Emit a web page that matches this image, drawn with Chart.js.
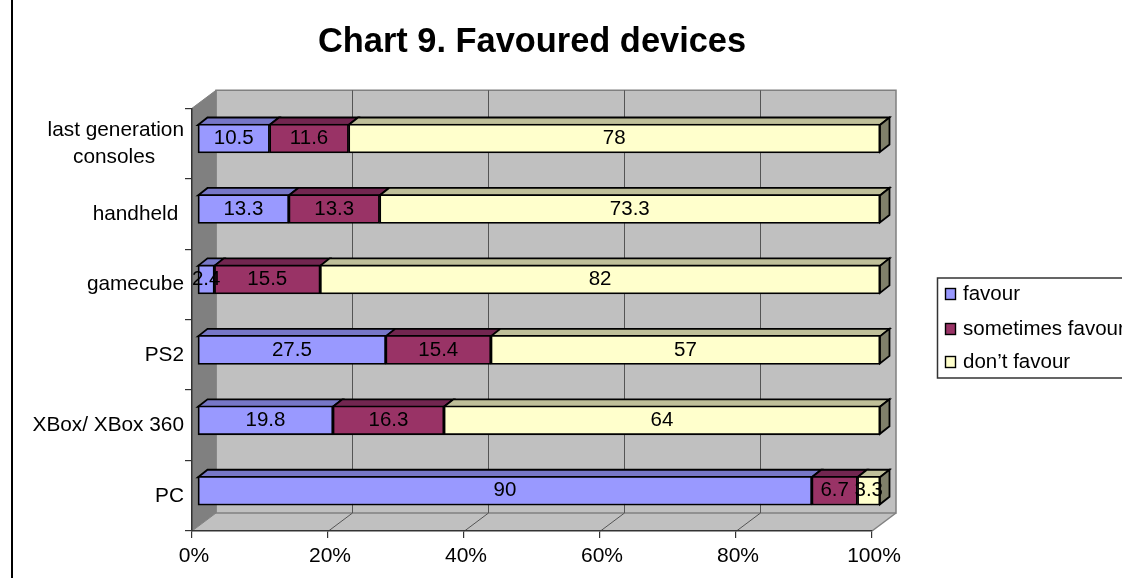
<!DOCTYPE html>
<html><head><meta charset="utf-8">
<style>html,body{margin:0;padding:0;background:#fff}canvas{display:block}</style>
<script src="https://cdn.jsdelivr.net/npm/chart.js@4/dist/chart.umd.min.js"></script>
</head><body><canvas id="c" width="1122" height="578"></canvas>
<script>
const categories = [['last generation','consoles     '],'handheld ','gamecube','PS2','XBox/ XBox 360','PC'];
const favour = [10.5,13.3,2.4,27.5,19.8,90];
const sometimesFavour = [11.6,13.3,15.5,15.4,16.3,6.7];
const dontFavour = [78,73.3,82,57,64,3.3];
const seriesNames = ['favour','sometimes favour','don\u2019t favour'];
const xTickValues = [0,20,40,60,80,100];
const fills = ['#9999FF','#993366','#FFFFCC'];
const tops = ['#7777C7','#722650','#BFBF99'];
const FONT = '"Liberation Sans", Arial, sans-serif';
const totals = favour.map((v,i)=>v+sometimesFavour[i]+dontFavour[i]);
const share = a => a.map((v,i)=>v/totals[i]*100);
const DEPTH = {x:24,y:-18}, BAR = {x:9.5,y:-7.5}, BAR_SHIFT = -5;
const raws = [favour,sometimesFavour,dontFavour];

const poly = (ctx,pts,fill,stroke,lw)=>{ctx.beginPath();pts.forEach((p,i)=>i?ctx.lineTo(p[0],p[1]):ctx.moveTo(p[0],p[1]));ctx.closePath();
  if(fill){ctx.fillStyle=fill;ctx.fill();} if(stroke){ctx.strokeStyle=stroke;ctx.lineWidth=lw;ctx.stroke();}};

const threeD = {
  id:'threeD',
  beforeDraw(chart){
    const {ctx,chartArea:a} = chart, s = chart.scales.xTicks;
    ctx.save();
    ctx.fillStyle='#fff';ctx.fillRect(0,0,chart.width,chart.height);
    ctx.strokeStyle='#000';ctx.lineWidth=2;ctx.beginPath();ctx.moveTo(12,0);ctx.lineTo(12,578);ctx.stroke();
    const bx=a.left+DEPTH.x, bX=a.right+DEPTH.x, by=a.top+DEPTH.y, bY=a.bottom+DEPTH.y;
    poly(ctx,[[a.left,a.bottom],[bx,bY],[bX,bY],[a.right,a.bottom]],'#C0C0C0');
    poly(ctx,[[bx,by],[bX,by],[bX,bY],[bx,bY]],'#C0C0C0','#808080',1.5);
    poly(ctx,[[a.left,a.top],[bx,by],[bx,bY],[a.left,a.bottom]],'#808080','#808080',1);
    ctx.beginPath();ctx.moveTo(a.right,a.bottom);ctx.lineTo(bX,bY);ctx.strokeStyle='#808080';ctx.lineWidth=1.5;ctx.stroke();
    ctx.lineWidth=1;ctx.strokeStyle='#555';
    xTickValues.slice(1,-1).forEach(v=>{
      const x=Math.round(s.getPixelForValue(v))+.5;
      ctx.beginPath();ctx.moveTo(x+DEPTH.x,by);ctx.lineTo(x+DEPTH.x,bY);ctx.lineTo(x,a.bottom);ctx.stroke();
    });
    ctx.restore();
  },
  beforeDatasetsDraw(chart){
    const ctx=chart.ctx;
    ctx.save();ctx.translate(0,BAR_SHIFT);
    chart.data.datasets.forEach((d,di)=>{
      chart.getDatasetMeta(di).data.forEach(el=>{
        const t=el.y-el.height/2+1, b=el.y+el.height/2-1;
        poly(ctx,[[el.base,t],[el.base+BAR.x,t+BAR.y],[el.x+BAR.x,t+BAR.y],[el.x,t]],tops[di],'#000',1.8);
        if(di===chart.data.datasets.length-1)
          poly(ctx,[[el.x,t],[el.x+BAR.x,t+BAR.y],[el.x+BAR.x,b+BAR.y],[el.x,b]],'#80806A','#000',1.8);
      });
    });
  },
  afterDatasetsDraw(chart){
    const ctx=chart.ctx;
    ctx.fillStyle='#000';ctx.font='20.5px '+FONT;ctx.textAlign='center';ctx.textBaseline='middle';
    chart.data.datasets.forEach((d,di)=>{
      chart.getDatasetMeta(di).data.forEach((el,i)=>{
        ctx.fillText(String(raws[di][i]),(el.base+el.x)/2,el.y);
      });
    });
    ctx.restore();
  },
  afterDraw(chart){
    const ctx=chart.ctx;
    ctx.save();
    ctx.strokeStyle='#333';ctx.lineWidth=1.5;
    ctx.beginPath();ctx.moveTo(1122,278);ctx.lineTo(937.5,278);ctx.lineTo(937.5,378);ctx.lineTo(1122,378);ctx.stroke();
    const rows=[294,329,362];
    ctx.font='20.5px '+FONT;ctx.textAlign='left';ctx.textBaseline='middle';
    seriesNames.forEach((n,i)=>{
      ctx.fillStyle=fills[i];ctx.strokeStyle='#000';ctx.lineWidth=1.4;
      ctx.fillRect(945.5,rows[i]-5.5,10,11);ctx.strokeRect(945.5,rows[i]-5.5,10,11);
      ctx.fillStyle='#000';ctx.fillText(n,963,rows[i]);
    });
    ctx.restore();
  }
};

new Chart(document.getElementById('c'),{
  type:'bar',
  data:{labels:categories,datasets:[
    {label:seriesNames[0],data:share(favour),backgroundColor:fills[0]},
    {label:seriesNames[1],data:share(sometimesFavour),backgroundColor:fills[1]},
    {label:seriesNames[2],data:share(dontFavour),backgroundColor:fills[2]}
  ].map(d=>({...d,borderColor:'#000',borderWidth:1.8,borderSkipped:false,barThickness:29,clip:false,xAxisID:'x',yAxisID:'y'}))},
  plugins:[threeD],
  options:{
    indexAxis:'y',responsive:false,animation:false,
    layout:{padding:{left:0,right:250,top:0,bottom:0}},
    plugins:{
      legend:{display:false},tooltip:{enabled:false},
      title:{display:true,text:'Chart 9. Favoured devices',fullSize:false,color:'#000',
        font:{family:FONT,size:34.4,weight:'bold',lineHeight:1.2},padding:{top:22,bottom:45}}
    },
    scales:{
      x:{display:false,stacked:true,min:-0.88,max:98.83},
      xTicks:{type:'linear',axis:'x',position:'bottom',min:0,max:100,
        afterFit(s){s.height=47;},
        afterBuildTicks(s){s.ticks=xTickValues.map(v=>({value:v}));},
        grid:{drawOnChartArea:false,drawTicks:true,tickLength:7,color:'#333',lineWidth:1.2},
        border:{color:'#333',width:1.5},
        ticks:{color:'#000',font:{family:FONT,size:21},padding:6,labelOffset:2,maxRotation:0,callback:v=>v+'%'}},
      y:{stacked:true,
        afterFit(s){s.width=192;},
        grid:{drawOnChartArea:false,drawTicks:true,tickLength:7,color:'#333',lineWidth:1.2},
        border:{color:'#333',width:1.5},
        ticks:{color:'#000',font:{family:FONT,size:20.8,lineHeight:1.3},padding:1,autoSkip:false}}
    }
  }
});
</script></body></html>
